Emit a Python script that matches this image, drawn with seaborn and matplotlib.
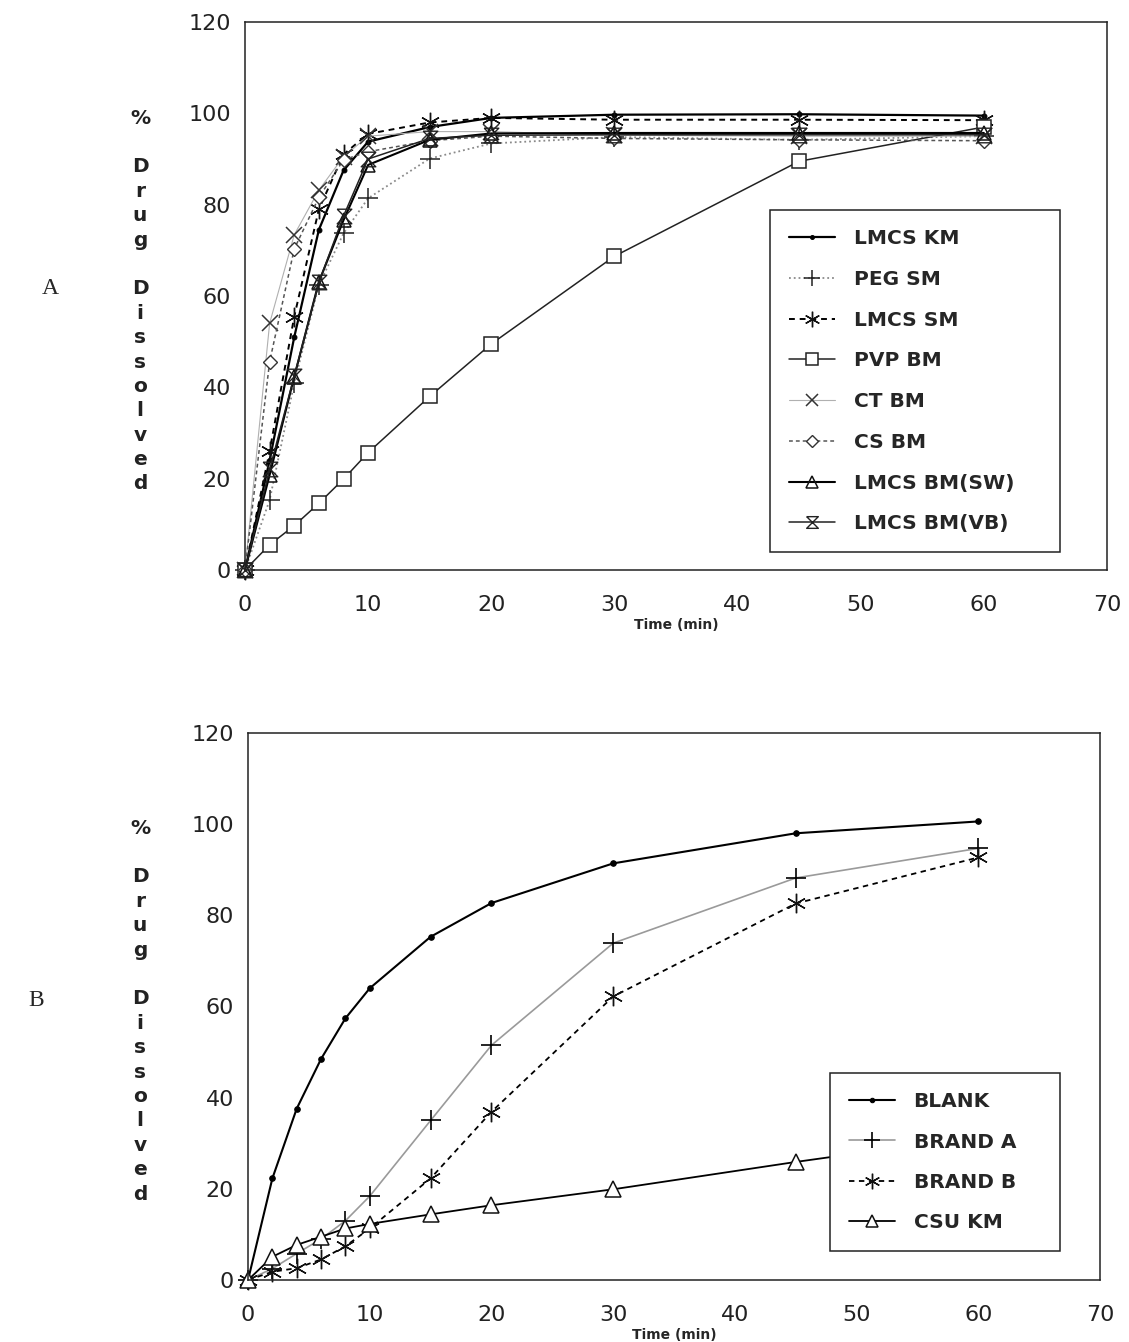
import numpy as np
import pandas as pd
import matplotlib
matplotlib.use('Agg')
import matplotlib.pyplot as plt
import seaborn as sns

# sampling times (min)
time = [0, 2, 4, 6, 8, 10, 15, 20, 30, 45, 60]

# panel A : % drug dissolved
lmcs_km = [0, 24, 51, 74.5, 87.5, 93.8, 97, 99, 99.7, 99.8, 99.5]
peg_sm = [0, 15.3, 40.9, 62.4, 73.7, 81.4, 90.1, 93.4, 94.8, 94.2, 95]
lmcs_sm = [0, 26, 55.5, 79, 91, 95.5, 98, 99, 98.6, 98.6, 98.5]
pvp_bm = [0, 5.5, 9.7, 14.6, 19.9, 25.7, 38, 49.5, 68.7, 89.5, 97]
ct_bm = [0, 54, 73.4, 83.2, 90.5, 95, 96, 96, 95.2, 95, 95]
cs_bm = [0, 45.6, 70.3, 81.6, 89.8, 91.6, 94, 95, 94.5, 94.2, 94]
lmcs_bm_sw = [0, 20.8, 42.3, 63.1, 76.6, 88.7, 94.2, 95.6, 95.7, 95.7, 95.7]
lmcs_bm_vb = [0, 22, 42.5, 63, 77.5, 90, 94.5, 95.2, 95.3, 95.3, 95.3]

# panel B : % drug dissolved
blank = [0, 22.3, 37.6, 48.5, 57.4, 64, 75.3, 82.7, 91.4, 98, 100.6]
brand_a = [0, 2.5, 5.8, 9, 13, 18.4, 35, 51.5, 73.9, 88.2, 94.7]
brand_b = [0, 1.8, 2.6, 4.5, 7.4, 11.3, 22.3, 36.9, 62.2, 82.6, 92.7]
csu_km = [0, 5.1, 7.7, 9.5, 11.3, 12.3, 14.4, 16.4, 19.9, 25.9, 31.5]

x_ticks = [0, 10, 20, 30, 40, 50, 60, 70]
y_ticks = [0, 20, 40, 60, 80, 100, 120]

sns.set_style('white')
plt.rcParams['font.family'] = ['DejaVu Sans']

hourglass = [(-1, 1), (1, 1), (-1, -1), (1, -1), (-1, 1)]
star = (6, 2, 0)

series_a = [
    ('LMCS KM', lmcs_km, dict(color='black', ls='-', marker='o', ms=3.5, mec='black', mfc='black', lw=1.6)),
    ('PEG SM', peg_sm, dict(color='#8a8a8a', ls=':', marker='+', ms=14, mec='#222222', mew=1.1, lw=1.3)),
    ('LMCS SM', lmcs_sm, dict(color='black', ls=(0, (3, 2.5)), marker=star, ms=14, mec='#111111', mew=1.0, lw=1.4)),
    ('PVP BM', pvp_bm, dict(color='#222222', ls='-', marker='s', ms=10, mfc='white', mec='#222222', mew=1.1, lw=1.1)),
    ('CT BM', ct_bm, dict(color='#b0b0b0', ls='-', marker='x', ms=11, mec='#333333', mew=1.1, lw=0.8)),
    ('CS BM', cs_bm, dict(color='#555555', ls=(0, (2.5, 2)), marker='D', ms=7.5, mfc='white', mec='#333333', mew=1.0, lw=1.1)),
    ('LMCS BM(SW)', lmcs_bm_sw, dict(color='black', ls='-', marker='^', ms=10.5, mfc='none', mec='#111111', mew=1.1, lw=1.5)),
    ('LMCS BM(VB)', lmcs_bm_vb, dict(color='#222222', ls='-', marker=hourglass, ms=10.5, mfc='none', mec='#222222', mew=1.0, lw=1.1)),
]

series_b = [
    ('BLANK', blank, dict(color='black', ls='-', marker='o', ms=4, mec='black', mfc='black', lw=1.5)),
    ('BRAND A', brand_a, dict(color='#9a9a9a', ls='-', marker='+', ms=15, mec='black', mew=1.2, lw=1.2)),
    ('BRAND B', brand_b, dict(color='black', ls=(0, (3, 2.5)), marker=star, ms=14, mec='#111111', mew=1.0, lw=1.3)),
    ('CSU KM', csu_km, dict(color='black', ls='-', marker='^', ms=11, mfc='white', mec='#111111', mew=1.1, lw=1.3)),
]

fig = plt.figure(figsize=(11.29, 13.42), dpi=100)
ax_a = fig.add_axes([0.217, 0.5753, 0.7635, 0.4083])
ax_b = fig.add_axes([0.2197, 0.0462, 0.7547, 0.4076])


def draw_panel(ax, series, leg_box, spacing):
    for name, vals, st in series:
        df = pd.DataFrame({'Time': time, 'Dissolved': vals})
        sns.lineplot(data=df, x='Time', y='Dissolved', ax=ax, label=name,
                     color=st.pop('color'), linestyle=st.pop('ls'),
                     linewidth=st.pop('lw'), clip_on=False, **st)
    ax.set_xlim(0, 70)
    ax.set_ylim(0, 120)
    ax.set_xticks(x_ticks)
    ax.set_yticks(y_ticks)
    ax.tick_params(direction='in', length=7, width=1, labelsize=16,
                   labelcolor='#222222')
    ax.tick_params(axis='x', pad=18)
    ax.tick_params(axis='y', pad=10)
    for s in ax.spines.values():
        s.set_color('#222222')
        s.set_linewidth(1.1)
    ax.set_xlabel('Time (min)', fontsize=10, fontweight='bold', labelpad=2)
    ax.set_ylabel('')
    leg = ax.legend(loc='upper left', bbox_to_anchor=leg_box, mode='expand',
                    frameon=True, fancybox=False, edgecolor='#222222',
                    handlelength=2.3, labelspacing=spacing, borderpad=0.95,
                    handletextpad=0.9, borderaxespad=0, framealpha=1,
                    markerscale=0.8, prop={'weight': 'bold', 'size': 14.5})
    leg.get_frame().set_linewidth(1.1)
    leg.set_zorder(10)


draw_panel(ax_a, series_a, (0.609, 0.0365, 0.336, 0.6205), 1.08)
draw_panel(ax_b, series_b, (0.683, 0.051, 0.27, 0.327), 1.05)

# stacked y label and panel letters
label_chars = ['%', '', 'D', 'r', 'u', 'g', '', 'D', 'i', 's', 's', 'o', 'l', 'v', 'e', 'd']
for top in (118, 828):
    for i, ch in enumerate(label_chars):
        if ch:
            fig.text(140 / 1129, 1 - (top + i * 24.4) / 1342, ch, ha='center',
                     va='center', fontsize=14.5, fontweight='bold', color='#222222')

fig.text(50 / 1129, 1 - 288 / 1342, 'A', ha='center', va='center', fontsize=17,
         family='Liberation Serif')
fig.text(36 / 1129, 1 - 1000 / 1342, 'B', ha='center', va='center', fontsize=17,
         family='Liberation Serif')

fig.savefig('out.png', dpi=100, facecolor='white')
